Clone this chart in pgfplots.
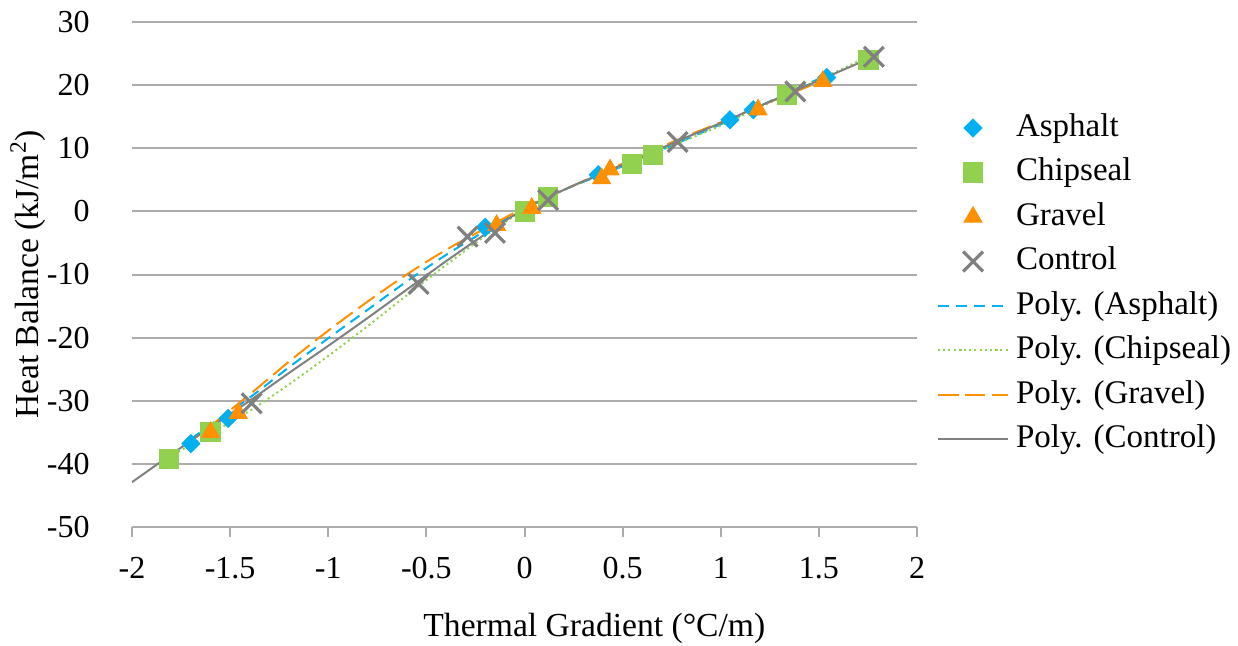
\documentclass[border=0pt]{standalone}
\usepackage{fontspec}
\setmainfont{Liberation Serif}
\usepackage{pgfplots}
\pgfplotsset{compat=1.18}
\definecolor{cA}{HTML}{00B0F0}
\definecolor{cS}{HTML}{92D050}
\definecolor{cG}{HTML}{FF9000}
\definecolor{cC}{HTML}{808080}
\definecolor{gridc}{HTML}{ACACAC}
\begin{document}
\begin{tikzpicture}
\path[use as bounding box] (-66pt,-59.5pt) rectangle (553pt,263.5pt);
\begin{axis}[
  at={(0,0)}, anchor=south west,
  scale only axis, width=392.5pt, height=252.5pt,
  xmin=-2, xmax=2, ymin=-50, ymax=30,
  xtick={-2,-1.5,-1,-0.5,0,0.5,1,1.5,2},
  xticklabels={-2,-1.5,-1,-0.5,0,0.5,1,1.5,2},
  ytick={-50,-40,-30,-20,-10,0,10,20,30},
  yticklabels={-50,-40,-30,-20,-10,0,10,20,30},
  font=\fontsize{16}{19}\selectfont,
  axis x line*=bottom, axis y line*=left,
  x axis line style={draw=gridc, line width=1pt, -},
  y axis line style={draw=none},
  ytick style={draw=none},
  xtick style={draw=gridc, line width=1pt},
  tick align=outside, major tick length=5pt,
  ymajorgrids, grid style={draw=gridc, line width=1pt},
  yticklabel style={anchor=east, inner sep=0pt, xshift=-16pt},
  xticklabel style={anchor=north, inner sep=0pt, yshift=-10pt},
  xlabel={Thermal Gradient (°C/m)},
  xlabel style={at={(axis description cs:0.589,-0.2)}, anchor=center, font=\fontsize{16.8}{20}\selectfont},
  ylabel={Heat Balance (kJ/m\textsuperscript{2})},
  ylabel style={at={(axis description cs:-0.1325,0.5)}, anchor=center, font=\fontsize{16.8}{20}\selectfont},
  legend image code/.code={\draw[mark repeat=2,mark phase=2,#1] plot coordinates {(0pt,0pt) (17.5pt,0pt) (35pt,0pt)};},
  legend style={at={(1.025,0.822)}, anchor=north west, draw=none, fill=none,
    inner sep=0pt, row sep=6.55pt,
    nodes={text height=12pt, text depth=3.7pt, inner sep=0pt},
    /tikz/every odd column/.style={column sep=3.5pt},
    font=\fontsize{16.5}{19}\selectfont},
  legend cell align=left,
]
% Data points
\addplot[only marks, mark=square*, mark size=3.2pt, color=cA, mark options={draw=cA, fill=cA, rotate=45}] coordinates {
(-1.70,-36.8) (-1.51,-32.8) (-0.20,-2.5) (0.376,5.8) (1.047,14.5) (1.166,16.1) (1.54,21.2)
};
\addlegendentry{Asphalt}
\addplot[only marks, mark=square*, mark size=4.8pt, color=cS, mark options={draw=cS, fill=cS}] coordinates {
(-1.81,-39.2) (-1.60,-34.9) (0.0,0.0) (0.12,2.3) (0.546,7.5) (0.656,8.9) (1.336,18.4) (1.752,24.0)
};
\addlegendentry{Chipseal}
\addplot[only marks, mark=triangle*, mark size=5.2pt, color=cG, mark options={draw=cG, fill=cG}] coordinates {
(-1.60,-35.0) (-1.458,-32.0) (-0.142,-2.2) (0.037,0.5) (0.393,5.2) (0.436,6.6) (1.19,16.1) (1.52,20.6)
};
\addlegendentry{Gravel}
\addplot[only marks, mark=x, mark size=7pt, color=cC, mark options={line width=1.6pt}] coordinates {
(-1.39,-30.4) (-0.54,-11.5) (-0.29,-4.0) (-0.15,-3.4) (0.12,1.8) (0.78,11.0) (1.38,19.0) (1.78,24.5)
};
\addlegendentry{Control}
% Trend lines
\addplot[no marks, smooth, color=cA, line width=1pt, dash pattern=on 5.5pt off 3.5pt] coordinates {
(-1.7,-36.1) (-1.6,-33.8) (-1.4,-29.5) (-1.2,-24.7) (-1.0,-20.1) (-0.8,-15.6) (-0.6,-11.1) (-0.4,-6.9) (-0.2,-3.1) (0,0.4) (0.2,3.4) (0.4,5.9) (0.6,8.4) (0.8,11.1) (1.0,13.8) (1.2,16.7) (1.4,19.6) (1.53,21.4)
};
\addlegendentry{Poly. (Asphalt)}
\addplot[no marks, smooth, color=cS, line width=1pt, dash pattern=on 1pt off 1.6pt] coordinates {
(-1.81,-38.9) (-1.6,-35.2) (-1.4,-31.6) (-1.2,-27.4) (-1.0,-22.9) (-0.8,-18.2) (-0.6,-13.3) (-0.4,-8.5) (-0.2,-3.9) (0,0.3) (0.2,3.4) (0.4,6.0) (0.6,8.4) (0.8,11.0) (1.0,13.6) (1.2,16.5) (1.4,19.4) (1.6,22.3) (1.77,24.8)
};
\addlegendentry{Poly. (Chipseal)}
\addplot[no marks, smooth, color=cG, line width=1pt, dash pattern=on 10pt off 3.5pt] coordinates {
(-1.6,-34.0) (-1.4,-29.0) (-1.2,-23.8) (-1.0,-18.9) (-0.8,-14.3) (-0.6,-10.0) (-0.4,-6.1) (-0.2,-2.7) (0,0.6) (0.2,3.4) (0.4,6.2) (0.6,8.9) (0.8,11.6) (1.0,14.1) (1.2,16.7) (1.4,19.2) (1.53,20.9)
};
\addlegendentry{Poly. (Gravel)}
\addplot[no marks, smooth, color=cC, line width=1pt] coordinates {
(-2.0,-42.9) (-1.8,-38.5) (-1.6,-34.2) (-1.4,-30.0) (-1.2,-25.6) (-1.0,-21.3) (-0.8,-16.9) (-0.6,-12.4) (-0.4,-7.9) (-0.2,-3.6) (0,0.4) (0.2,3.4) (0.4,6.1) (0.6,8.7) (0.8,11.4) (1.0,14.0) (1.2,16.7) (1.4,19.4) (1.6,22.1) (1.8,24.8)
};
\addlegendentry{Poly. (Control)}
\end{axis}
\end{tikzpicture}
\end{document}
